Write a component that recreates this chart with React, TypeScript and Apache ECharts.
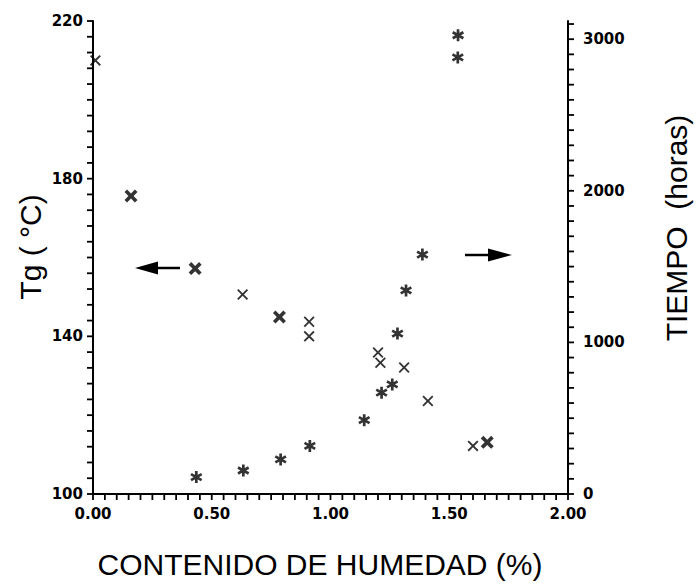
import React, { useEffect, useRef } from "react";
import * as echarts from "echarts";

// Tg (°C) vs contenido de humedad (%)
const tgHumedad = [0.01, 0.63, 0.91, 0.91, 1.2, 1.21, 1.31, 1.41, 1.6];
const tgValores = [210, 150.6, 143.7, 140.0, 135.9, 133.3, 132.1, 123.6, 112.2];
// Tg points printed in bold (coincident measurements)
const tgDobleHumedad = [0.16, 0.43, 0.785, 1.66];
const tgDobleValores = [175.6, 157.2, 144.9, 113.1];
// Tiempo (horas) vs contenido de humedad (%)
const tiempoHumedad = [0.435, 0.633, 0.79, 0.913, 1.142, 1.215, 1.26, 1.282, 1.318, 1.387, 1.536, 1.537];
const tiempoHoras = [112, 155, 228, 317, 487, 668, 723, 1058, 1343, 1579, 2880, 3026];

// tick labels
const xTicks = [0, 0.5, 1, 1.5, 2];
const tgTicks = [100, 140, 180, 220];
const tiempoTicks = [0, 1000, 2000, 3000];
const tiempoMax = 3120;

// tick-mark steps (axis decoration)
const xTickStep = 0.05;
const tgTickStep = 4;
const tiempoTickStep = 100;

const steps = (from: number, to: number, step: number) => {
  const out: number[] = [];
  const n = Math.round((to - from) / step);
  for (let i = 0; i <= n; i++) out.push(+(from + i * step).toFixed(6));
  return out;
};

const X_PATH =
  "path://M0,12 L12,0 L50,38 L88,0 L100,12 L62,50 L100,88 L88,100 L50,62 L12,100 L0,88 L38,50 Z";
const X_BOLD_PATH =
  "path://M0,20 L20,0 L50,30 L80,0 L100,20 L70,50 L100,80 L80,100 L50,70 L20,100 L0,80 L30,50 Z";
const STAR_PATH =
  "path://M39,0 L61,0 L61,100 L39,100 Z " +
  "M1.2,34.5 L12.2,15.5 L98.8,65.5 L87.8,84.5 Z " +
  "M87.8,15.5 L98.8,34.5 L12.2,84.5 L1.2,65.5 Z";

const labelFont = {
  fontFamily: "DejaVu Sans",
  fontWeight: "bold" as const,
  fontSize: 15,
  color: "#000",
};

const axisCommon = {
  axisLine: { show: true, onZero: false, lineStyle: { color: "#000", width: 2 } },
  axisTick: { show: false },
  splitLine: { show: false },
};

const TICK_LEN = 6;

export default function App() {
  const ref = useRef<HTMLDivElement>(null);
  useEffect(() => {
    if (!ref.current) return;
    const chart = echarts.init(ref.current, null, { renderer: "svg" });
    const titleFont = "30px 'Liberation Sans'";
    chart.setOption({
      animation: false,
      backgroundColor: "#fff",
      grid: { left: 93, right: 128, top: 21, bottom: 91 },
      xAxis: {
        type: "value",
        min: xTicks[0],
        max: xTicks[xTicks.length - 1],
        interval: 0.5,
        ...axisCommon,
        axisLabel: { ...labelFont, margin: 12, formatter: (v: number) => v.toFixed(2) },
      },
      yAxis: [
        {
          type: "value",
          position: "left",
          min: tgTicks[0],
          max: tgTicks[tgTicks.length - 1],
          interval: 40,
          ...axisCommon,
          axisLabel: { ...labelFont, margin: 10 },
        },
        {
          type: "value",
          position: "right",
          min: tiempoTicks[0],
          max: tiempoMax,
          interval: 1000,
          ...axisCommon,
          axisLabel: {
            ...labelFont,
            margin: 15,
            formatter: (v: number) => (tiempoTicks.includes(v) ? String(v) : ""),
          },
        },
      ],
      series: [
        {
          name: "Tg",
          type: "scatter",
          yAxisIndex: 0,
          symbol: X_PATH,
          symbolSize: 11,
          itemStyle: { color: "#000" },
          data: tgHumedad.map((x, i) => [x, tgValores[i]]),
        },
        {
          name: "Tg (doble)",
          type: "scatter",
          yAxisIndex: 0,
          symbol: X_BOLD_PATH,
          symbolSize: 13,
          itemStyle: { color: "#000" },
          data: tgDobleHumedad.map((x, i) => [x, tgDobleValores[i]]),
        },
        {
          name: "Tiempo",
          type: "scatter",
          yAxisIndex: 1,
          symbol: STAR_PATH,
          symbolSize: 12,
          itemStyle: { color: "#000" },
          data: tiempoHumedad.map((x, i) => [x, tiempoHoras[i]]),
        },
      ],
    });

    // tick marks positioned through the chart's own axis scales
    const toPx = (xv: number, yv: number, yIdx: number): number[] =>
      chart.convertToPixel({ xAxisIndex: 0, yAxisIndex: yIdx } as any, [xv, yv]) as number[];
    const tickStyle = { stroke: "#000", lineWidth: 1.8 };
    const ticks: any[] = [];
    steps(xTicks[0], xTicks[xTicks.length - 1], xTickStep).forEach((v) => {
      const p = toPx(v, tgTicks[0], 0);
      ticks.push({ type: "line", silent: true, shape: { x1: p[0], y1: p[1], x2: p[0], y2: p[1] + TICK_LEN }, style: tickStyle });
    });
    steps(tgTicks[0], tgTicks[tgTicks.length - 1], tgTickStep).forEach((v) => {
      const p = toPx(xTicks[0], v, 0);
      ticks.push({ type: "line", silent: true, shape: { x1: p[0] - TICK_LEN, y1: p[1], x2: p[0], y2: p[1] }, style: tickStyle });
    });
    steps(tiempoTicks[0], 3100, tiempoTickStep).forEach((v) => {
      const p = toPx(xTicks[xTicks.length - 1], v, 1);
      ticks.push({ type: "line", silent: true, shape: { x1: p[0], y1: p[1], x2: p[0] + TICK_LEN, y2: p[1] }, style: tickStyle });
    });

    chart.setOption({
      graphic: [
        {
          type: "text",
          x: 30,
          y: 247,
          rotation: Math.PI / 2,
          style: { text: "Tg ( °C)", font: titleFont, fill: "#000", align: "center", verticalAlign: "middle" },
        },
        {
          type: "text",
          x: 676,
          y: 228,
          rotation: Math.PI / 2,
          style: { text: "TIEMPO  (horas)", font: titleFont, fill: "#000", align: "center", verticalAlign: "middle" },
        },
        {
          type: "text",
          x: 320,
          y: 564,
          style: { text: "CONTENIDO DE HUMEDAD (%)", font: titleFont, fill: "#000", align: "center", verticalAlign: "middle" },
        },
        { type: "line", shape: { x1: 156, y1: 268, x2: 180, y2: 268 }, style: { stroke: "#000", lineWidth: 2.5 } },
        { type: "polygon", shape: { points: [[135, 268], [158, 261.5], [158, 274.5]] }, style: { fill: "#000" } },
        { type: "line", shape: { x1: 465, y1: 255, x2: 490, y2: 255 }, style: { stroke: "#000", lineWidth: 2.5 } },
        { type: "polygon", shape: { points: [[512, 255], [488, 248.5], [488, 261.5]] }, style: { fill: "#000" } },
        ...ticks,
      ],
    });
    return () => chart.dispose();
  }, []);
  return (
    <div
      ref={ref}
      style={{ position: "fixed", left: 0, top: 0, width: 696, height: 585, background: "#fff" }}
    />
  );
}
